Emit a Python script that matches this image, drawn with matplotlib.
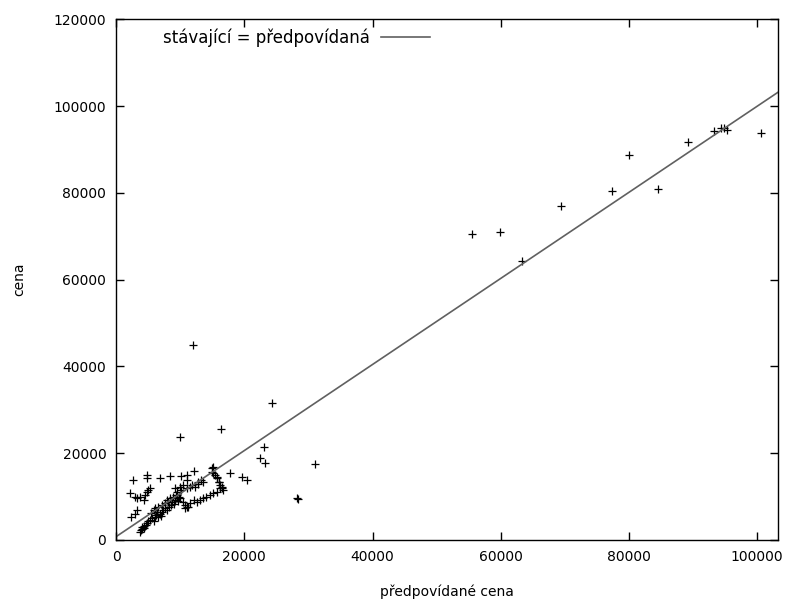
import numpy as np
import matplotlib.pyplot as plt

pred = [55500, 59900, 63300, 69400, 77400, 80000, 84500, 89200, 93300, 94400, 94800, 95300, 100600,
        12000, 24300, 16400, 10000, 23000, 22500, 23200, 31100, 17800, 19600, 20500, 28200, 28400,
        2600, 4800, 4900, 6900, 8400, 10200, 11000, 11100, 12200, 14900, 15200, 14900, 15200, 15400,
        15700, 16000, 16500, 12800, 13300, 15700, 16000, 16200, 16500, 16700,
        2200, 3000, 3200, 3700, 4300, 4500, 4800, 5300, 5000, 2400, 3000, 3200,
        3700, 3900, 4000, 4100, 4300, 4400, 4600, 4800, 5000, 5300, 5600, 5900, 6100, 6300, 6600,
        6800, 7000, 7200, 7400, 7700, 8000, 8200, 8500, 8700, 9000, 9200, 9500, 6100, 6600, 7100,
        7600, 8100, 5500, 5900, 6400, 7900, 8400, 8900, 9300, 9700,
        9500, 10000, 10500, 10800, 11000, 10800, 11300, 11500, 12100, 12600, 13100, 13600, 14100,
        14700, 15200, 15700, 16200, 10000, 10200, 10500, 11000, 11500, 11800, 9200, 9500, 9800,
        12300, 12800, 13500]
actual = [70600, 70900, 64300, 77000, 80500, 88700, 80800, 91600, 94200, 95000, 95000, 94500, 93700,
          44900, 31500, 25500, 23800, 21500, 18800, 17700, 17400, 15500, 14600, 13800, 9600, 9400,
          13800, 15000, 14400, 14400, 14700, 14700, 15000, 13800, 16000, 16500, 16900, 15700, 15400, 15000,
          14200, 13400, 12300, 13400, 13800, 14600, 13400, 12700, 11900, 11500,
          10800, 10000, 9600, 10000, 9200, 10400, 11100, 11900, 11500, 5400, 6100, 6900,
          1900, 2200, 2500, 2900, 2700, 3200, 3500, 3900, 4300, 4600, 5000, 4400, 5400, 5800, 5200,
          6100, 5600, 6500, 6900, 7300, 7000, 7700, 8100, 8800, 8400, 9200, 9600, 7300, 7700, 8100,
          8500, 8800, 6300, 6900, 6500, 9200, 9600, 9900, 10400, 9000,
          10400, 9600, 8800, 8100, 7700, 7300, 7700, 8500, 9200, 8800, 9200, 9600, 10000,
          10400, 10800, 11100, 11900, 12300, 11500, 12700, 11900, 12300, 12700, 11900, 11000, 10000,
          12300, 13000, 13400]

# fitted line: actual = a * predicted + b
fit_a = 0.992
fit_b = 760
x_max = 103200

plt.rcParams['font.family'] = ['DejaVu Sans']
fig = plt.figure(figsize=(7.92, 6.01), dpi=100)
ax = fig.add_axes([0.1465, 0.1015, 0.8355, 0.8665])

ax.plot(pred, actual, '+', color='black', markersize=6, markeredgewidth=0.9)
xs = np.array([0, x_max])
ax.plot(xs, fit_a * xs + fit_b, color='#606060', linewidth=1.2, label='stávající = předpovídaná')

ax.set_xlim(0, x_max)
ax.set_ylim(0, 120000)
ax.set_xticks(np.arange(0, 100001, 20000))
ax.set_yticks(np.arange(0, 120001, 20000))
ax.tick_params(direction='in', length=6, width=1, top=True, right=True, labelsize=10, pad=7)
for s in ax.spines.values():
    s.set_linewidth(1)
ax.set_xlabel('předpovídané cena', fontsize=10, labelpad=15)
ax.set_ylabel('cena', fontsize=10, labelpad=20)

ax.legend(loc='upper left', bbox_to_anchor=(0.049, 1.011), frameon=False, markerfirst=False,
          handlelength=2.9, handletextpad=0.66, fontsize=12)

fig.savefig('out.png', dpi=100)
